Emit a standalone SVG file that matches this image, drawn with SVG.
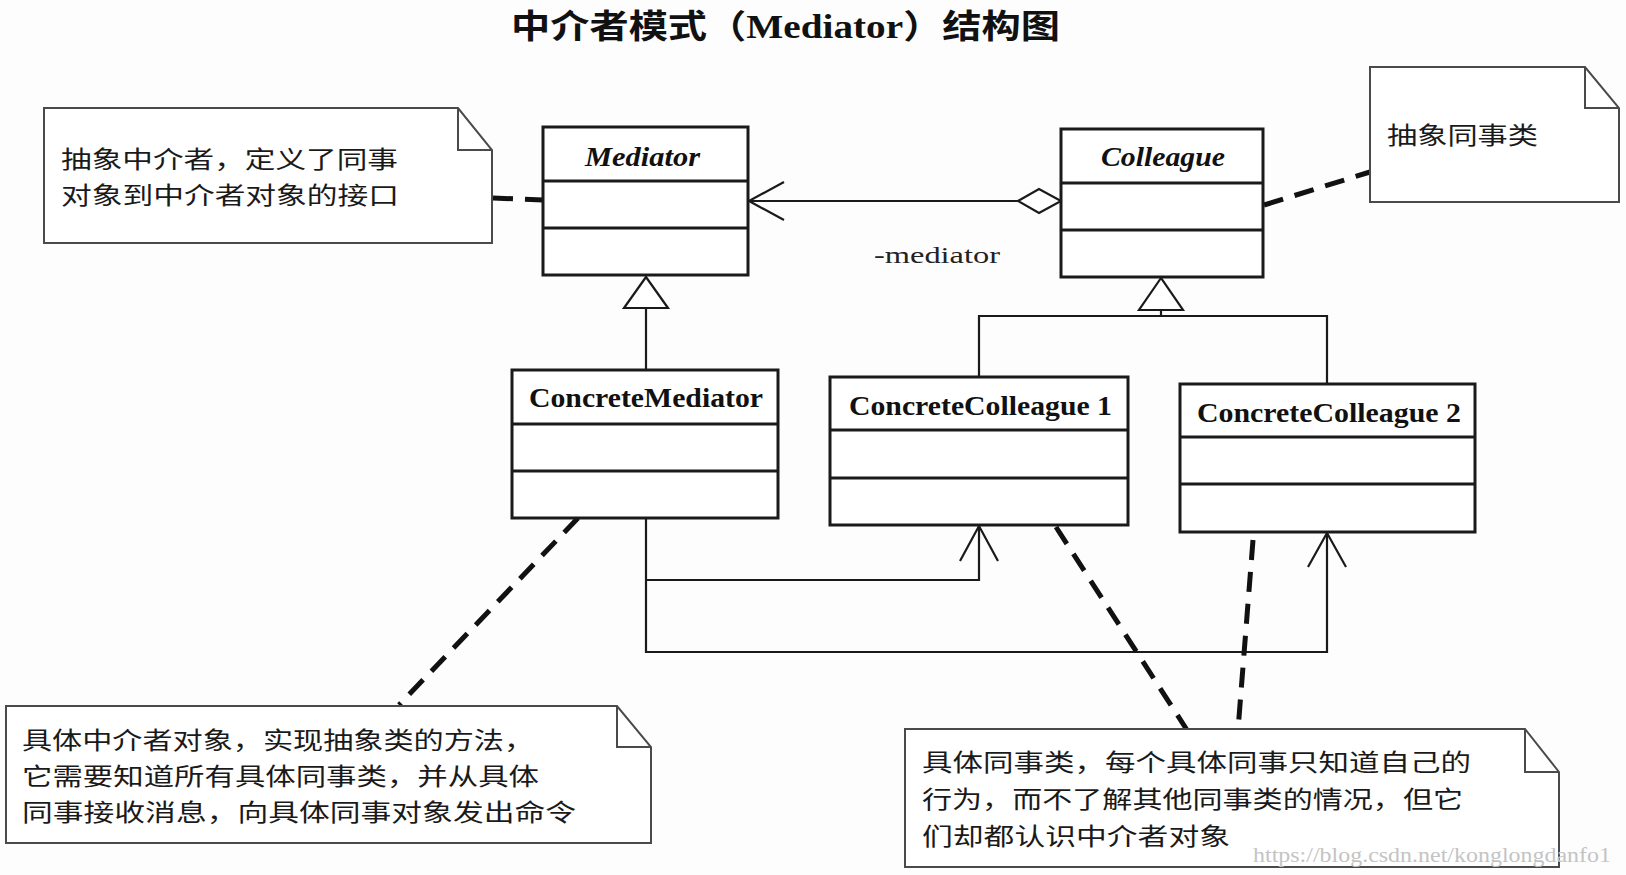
<svg xmlns="http://www.w3.org/2000/svg" width="1626" height="875" viewBox="0 0 1626 875">
<defs>
<style>
.bg{fill:#fdfdfd}
.cls{fill:#fff;stroke:#1a1a1a;stroke-width:3}
.div{stroke:#1a1a1a;stroke-width:3;fill:none}
.note{fill:#fff;stroke:#4a4a4a;stroke-width:2}
.fold{fill:none;stroke:#4a4a4a;stroke-width:2}
.ln{fill:none;stroke:#1a1a1a;stroke-width:2.2}
.dash{fill:none;stroke:#111;stroke-width:5;stroke-dasharray:20 12}
.tri{fill:#fff;stroke:#1a1a1a;stroke-width:2.2}
.cn{font-family:"Liberation Serif",serif;font-weight:bold;font-size:27px;fill:#111;text-anchor:start}
.cni{font-family:"Liberation Serif",serif;font-weight:bold;font-style:italic;font-size:27px;fill:#111}
.zh{font-family:"Noto Sans CJK SC","Noto Sans",sans-serif;font-size:24px;fill:#1a1a1a}
.title{font-family:"Liberation Serif","Noto Sans CJK SC",serif;font-weight:bold;font-size:33px;fill:#111}
.role{font-family:"Liberation Serif",serif;font-size:24px;fill:#222}
.wm{font-family:"Liberation Serif",serif;font-size:20px;fill:#c4c4c4}
</style>
</defs>
<rect class="bg" x="0" y="0" width="1626" height="875"/>

<g id="title">
<text class="title" x="511" y="38" textLength="549" lengthAdjust="spacingAndGlyphs">中介者模式（Mediator）结构图</text>
</g>

<g id="connectors">
<line class="ln" x1="748" y1="201" x2="1018" y2="201"/>
<polyline class="ln" points="784,182 749,201 784,220"/>
<polygon class="tri" points="1018,201 1039,189 1061,201 1039,213"/>
<line class="ln" x1="646" y1="309" x2="646" y2="370"/>
<polygon class="tri" points="646,277 624,308 668,308"/>
<polyline class="ln" points="979,378 979,316 1327,316 1327,384"/>
<line class="ln" x1="1161" y1="311" x2="1161" y2="316"/>
<polygon class="tri" points="1161,278 1139,310 1183,310"/>
<polyline class="ln" points="646,518 646,652 1327,652 1327,532"/>
<polyline class="ln" points="646,580 979,580 979,525"/>
<polyline class="ln" points="960,561 979,526 998,561"/>
<polyline class="ln" points="1308,567 1327,533 1346,567"/>
<line class="dash" x1="493" y1="198" x2="543" y2="200" stroke-dasharray="14 10"/>
<line class="dash" x1="1264" y1="205" x2="1370" y2="172"/>
<line class="dash" x1="578" y1="518" x2="399" y2="705"/>
<line class="dash" x1="1056" y1="527" x2="1187" y2="730"/>
<line class="dash" x1="1253" y1="540" x2="1238" y2="730"/>
</g>

<g id="mediator">
<rect class="cls" x="543" y="127" width="205" height="148"/>
<line class="div" x1="543" y1="181" x2="748" y2="181"/>
<line class="div" x1="543" y1="228" x2="748" y2="228"/>
<text class="cni" x="585" y="166" textLength="115" lengthAdjust="spacingAndGlyphs">Mediator</text>
</g>

<g id="colleague">
<rect class="cls" x="1061" y="129" width="202" height="148"/>
<line class="div" x1="1061" y1="183" x2="1263" y2="183"/>
<line class="div" x1="1061" y1="230" x2="1263" y2="230"/>
<text class="cni" x="1101" y="166" textLength="124" lengthAdjust="spacingAndGlyphs">Colleague</text>
</g>

<g id="role-label">
<text class="role" x="874" y="263" textLength="126" lengthAdjust="spacingAndGlyphs">-mediator</text>
</g>

<g id="concrete-mediator">
<rect class="cls" x="512" y="370" width="266" height="148"/>
<line class="div" x1="512" y1="424" x2="778" y2="424"/>
<line class="div" x1="512" y1="471" x2="778" y2="471"/>
<text class="cn" x="529" y="407" textLength="234" lengthAdjust="spacingAndGlyphs">ConcreteMediator</text>
</g>

<g id="concrete-colleague-1">
<rect class="cls" x="830" y="377" width="298" height="148"/>
<line class="div" x1="830" y1="430" x2="1128" y2="430"/>
<line class="div" x1="830" y1="478" x2="1128" y2="478"/>
<text class="cn" x="849" y="415" textLength="263" lengthAdjust="spacingAndGlyphs">ConcreteColleague 1</text>
</g>

<g id="concrete-colleague-2">
<rect class="cls" x="1180" y="384" width="295" height="148"/>
<line class="div" x1="1180" y1="437" x2="1475" y2="437"/>
<line class="div" x1="1180" y1="484" x2="1475" y2="484"/>
<text class="cn" x="1197" y="422" textLength="264" lengthAdjust="spacingAndGlyphs">ConcreteColleague 2</text>
</g>

<g id="note-mediator">
<polygon class="note" points="44,108 458,108 492,150 492,243 44,243"/>
<polyline class="fold" points="458,108 458,150 492,150"/>
<text class="zh" x="61" y="168" textLength="337" lengthAdjust="spacingAndGlyphs">抽象中介者，定义了同事</text>
<text class="zh" x="61" y="204" textLength="338" lengthAdjust="spacingAndGlyphs">对象到中介者对象的接口</text>
</g>

<g id="note-colleague">
<polygon class="note" points="1370,67 1585,67 1619,108 1619,202 1370,202"/>
<polyline class="fold" points="1585,67 1585,108 1619,108"/>
<text class="zh" x="1387" y="144" textLength="151" lengthAdjust="spacingAndGlyphs">抽象同事类</text>
</g>

<g id="note-concrete-mediator">
<polygon class="note" points="6,706 617,706 651,747 651,843 6,843"/>
<polyline class="fold" points="617,706 617,747 651,747"/>
<text class="zh" x="22" y="749" textLength="512" lengthAdjust="spacingAndGlyphs">具体中介者对象，实现抽象类的方法，</text>
<text class="zh" x="22" y="785" textLength="517" lengthAdjust="spacingAndGlyphs">它需要知道所有具体同事类，并从具体</text>
<text class="zh" x="22" y="821" textLength="554" lengthAdjust="spacingAndGlyphs">同事接收消息，向具体同事对象发出命令</text>
</g>

<g id="note-concrete-colleague">
<polygon class="note" points="905,729 1525,729 1559,772 1559,867 905,867"/>
<polyline class="fold" points="1525,729 1525,772 1559,772"/>
<text class="zh" x="922" y="771" textLength="549" lengthAdjust="spacingAndGlyphs">具体同事类，每个具体同事只知道自己的</text>
<text class="zh" x="922" y="808" textLength="541" lengthAdjust="spacingAndGlyphs">行为，而不了解其他同事类的情况，但它</text>
<text class="zh" x="922" y="845" textLength="308" lengthAdjust="spacingAndGlyphs">们却都认识中介者对象</text>
</g>

<g id="watermark">
<text class="wm" x="1253" y="862" textLength="358" lengthAdjust="spacingAndGlyphs">https://blog.csdn.net/konglongdanfo1</text>
</g>
</svg>
